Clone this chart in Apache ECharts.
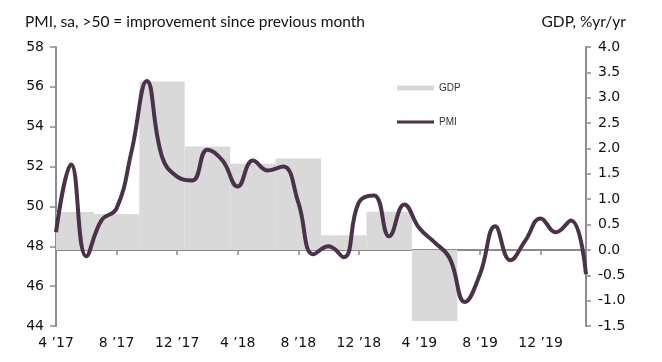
<!DOCTYPE html>
<html>
<head>
<meta charset="utf-8">
<script src="https://cdn.jsdelivr.net/npm/echarts@6/dist/echarts.min.js"></script>
<style>
html,body{margin:0;padding:0;background:#fff;}
#chart{width:662px;height:362px;}
</style>
</head>
<body>
<div id="chart"></div>
<script>
// Monthly categories, Apr 2017 .. Mar 2020
const monthLabels = [
  "4 \u201917","5 \u201917","6 \u201917","7 \u201917","8 \u201917","9 \u201917","10 \u201917","11 \u201917","12 \u201917",
  "1 \u201918","2 \u201918","3 \u201918","4 \u201918","5 \u201918","6 \u201918","7 \u201918","8 \u201918","9 \u201918","10 \u201918","11 \u201918","12 \u201918",
  "1 \u201919","2 \u201919","3 \u201919","4 \u201919","5 \u201919","6 \u201919","7 \u201919","8 \u201919","9 \u201919","10 \u201919","11 \u201919","12 \u201919",
  "1 \u201920","2 \u201920","3 \u201920"
];
// PMI, monthly
const pmiValues = [
  48.7, 52.1, 47.5, 49.3, 49.9, 52.8, 56.3, 52.5, 51.5,
  51.3, 52.85, 52.3, 51.0, 52.3, 51.8, 52.0, 50.2, 47.6, 48.0, 47.45, 50.2,
  50.55, 48.5, 50.1, 48.9, 48.2, 47.4, 45.2, 46.6, 49.0, 47.3, 48.3, 49.4,
  48.7, 49.3, 46.6
];
// GDP %yr/yr, quarterly (Q2 2017 .. Q2 2019)
const gdpQuarters = ["Q2 2017","Q3 2017","Q4 2017","Q1 2018","Q2 2018","Q3 2018","Q4 2018","Q1 2019","Q2 2019"];
const gdpValues = [0.745, 0.71, 3.32, 2.04, 1.70, 1.80, 0.29, 0.75, -1.40];
// Axis tick settings
const xTickEvery = 4;
const leftTicks = [44, 46, 48, 50, 52, 54, 56, 58];
const rightTicks = [-1.5, -1.0, -0.5, 0.0, 0.5, 1.0, 1.5, 2.0, 2.5, 3.0, 3.5, 4.0];

const xTickValues = monthLabels.map((_, i) => i).filter(i => i % xTickEvery === 0);

const chart = echarts.init(document.getElementById('chart'), null, {renderer: 'canvas'});
const axisColor = '#8c8c8c';
const labelFont = 'DejaVu Sans';

chart.setOption({
  animation: false,
  backgroundColor: '#ffffff',
  textStyle: {fontFamily: labelFont},
  title: [
    {text: 'PMI, sa, >50 = improvement since previous month', left: 20, top: 9,
     textStyle: {fontFamily: 'Lato', fontSize: 15.5, fontWeight: 'normal', color: '#111'}},
    {text: 'GDP, %yr/yr', right: 31, top: 9,
     textStyle: {fontFamily: 'Lato', fontSize: 15.5, fontWeight: 'normal', color: '#111'}}
  ],
  legend: [
    {left: 392, top: 78, orient: 'vertical', itemWidth: 37, itemHeight: 5, itemGap: 6,
     data: [{name: 'GDP', icon: 'rect'}],
     textStyle: {fontFamily: 'Liberation Sans', fontSize: 10, color: '#333'}},
    {left: 392, top: 112, orient: 'vertical', itemWidth: 37, itemHeight: 3, itemGap: 6,
     data: [{name: 'PMI', icon: 'rect'}],
     textStyle: {fontFamily: 'Liberation Sans', fontSize: 10, color: '#333'}}
  ],
  grid: {left: 56, right: 76, top: 47, bottom: 36, containLabel: false},
  xAxis: {
    type: 'value', min: 0, max: monthLabels.length - 1, interval: xTickEvery,
    axisLine: {show: true, lineStyle: {color: axisColor, width: 2}},
    axisTick: {show: true, length: 5, customValues: xTickValues, lineStyle: {color: axisColor, width: 1.5}},
    axisLabel: {customValues: xTickValues, formatter: v => monthLabels[v] || '', fontSize: 14, color: '#111', margin: 10, fontFamily: labelFont},
    splitLine: {show: false}
  },
  yAxis: [
    {type: 'value', min: leftTicks[0], max: leftTicks[leftTicks.length - 1], interval: 2, position: 'left',
     axisLine: {show: true, lineStyle: {color: axisColor, width: 2}},
     axisTick: {show: true, length: 6, lineStyle: {color: axisColor, width: 1.5}},
     axisLabel: {fontSize: 14, color: '#111', margin: 12, fontFamily: labelFont},
     splitLine: {show: false}},
    {type: 'value', min: rightTicks[0], max: rightTicks[rightTicks.length - 1], interval: 0.5, position: 'right',
     axisLine: {show: true, lineStyle: {color: axisColor, width: 2}},
     axisTick: {show: true, length: 5, lineStyle: {color: axisColor, width: 1.5}},
     axisLabel: {fontSize: 14, color: '#111', margin: 12, fontFamily: labelFont, formatter: v => v.toFixed(1)},
     splitLine: {show: false}}
  ],
  series: [
    {
      name: 'GDP', type: 'custom', yAxisIndex: 1, z: 1,
      itemStyle: {color: '#d9d9d9'},
      encode: {x: 0, y: 1},
      data: gdpValues.map((v, q) => [q * 3, v, q]),
      renderItem: function (params, api) {
        const q = api.value(2);
        const start = Math.max(0, q * 3 - 0.5);
        const end = q * 3 + 2.5;
        const p1 = api.coord([start, api.value(1)]);
        const p2 = api.coord([end, 0]);
        return {
          type: 'rect',
          shape: {x: p1[0], y: Math.min(p1[1], p2[1]), width: p2[0] - p1[0], height: Math.abs(p2[1] - p1[1])},
          style: {fill: '#d9d9d9'}
        };
      }
    },
    {
      name: 'PMI', type: 'line', yAxisIndex: 0, z: 3,
      smooth: 0.45, showSymbol: false, symbol: 'none',
      lineStyle: {color: '#4b3149', width: 4},
      itemStyle: {color: '#4b3149'},
      data: pmiValues.map((v, i) => [i, v])
    }
  ]
});
</script>
</body>
</html>
